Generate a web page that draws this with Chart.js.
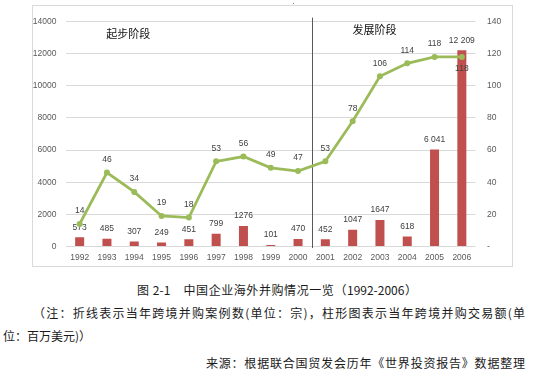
<!DOCTYPE html>
<html><head><meta charset="utf-8">
<script src="https://cdn.jsdelivr.net/npm/chart.js@4.4.1/dist/chart.umd.min.js"></script>
<style>
html,body{margin:0;padding:0;background:#fff;width:553px;height:380px;overflow:hidden;position:relative;font-family:"Noto Sans CJK SC","Noto Sans",sans-serif}
#frame{position:absolute;left:32px;top:5px;width:481px;height:262px;box-sizing:border-box;border:1px solid #d9d9d9;pointer-events:none}
#c{position:absolute;left:32px;top:5px;width:481px;height:262px}
#dot{position:absolute;left:293px;top:3px;width:1px;height:1px;background:#888}
.cap{position:absolute;font-size:12px;line-height:16px;color:#1a1a1a;white-space:nowrap}
.just{text-align:justify;text-align-last:justify;white-space:normal}
</style></head><body>
<canvas id="c" width="481" height="262"></canvas>
<div id="frame"></div>
<div id="dot"></div>
<div class="cap just" style="left:137px;top:282px;width:280px">图 2-1　中国企业海外并购情况一览（1992-2006）</div>
<div class="cap just" style="left:33px;top:305px;width:492px">（注：折线表示当年跨境并购案例数(单位：宗)，柱形图表示当年跨境并购交易额(单</div>
<div class="cap" style="left:3px;top:328px">位：百万美元)）</div>
<div class="cap just" style="left:206px;top:355px;width:319px">来源：根据联合国贸发会历年《世界投资报告》数据整理</div>
<script>
// ---- data ----
const years = ['1992','1993','1994','1995','1996','1997','1998','1999','2000','2001','2002','2003','2004','2005','2006'];
const dealValue = [573, 485, 307, 249, 451, 799, 1276, 101, 470, 452, 1047, 1647, 618, 6041, 12209]; // 百万美元
const dealCount = [14, 46, 34, 19, 18, 53, 56, 49, 47, 53, 78, 106, 114, 118, 118]; // 宗
const leftTicks = {min:0, max:14000, step:2000};
const rightTicks = {min:0, max:140, step:20};
const phaseNames = ['起步阶段', '发展阶段'];

const TICK_FONT = {family:'"Liberation Sans", Arial, sans-serif', size:8.5};
const fmtValue = v => v >= 5000 ? v.toLocaleString('en-US').replace(/,/g, ' ') : String(v);

const labelPlugin = {
  id:'valueLabels',
  afterDatasetDraw(chart, args, opts){
    const ctx = chart.ctx;
    const ds = chart.data.datasets[args.index];
    const meta = args.meta;
    ctx.save();
    ctx.font = '8.5px "Liberation Sans", Arial, sans-serif';
    ctx.fillStyle = '#404040';
    ctx.textAlign = 'center';
    ctx.textBaseline = 'middle';
    meta.data.forEach((el, i) => {
      const v = ds.data[i];
      if (meta.type === 'bar') {
        ctx.fillText(fmtValue(v), el.x, el.y - 10);
      } else {
        const below = (opts.lineBelow || []).includes(i);
        ctx.fillText(String(v), el.x, below ? el.y + 12 : el.y - 13);
      }
    });
    ctx.restore();
  }
};

const phasePlugin = {
  id:'phases',
  beforeDatasetsDraw(chart, args, opts){
    const ctx = chart.ctx;
    const x = chart.scales.x, y = chart.scales.y;
    const area = chart.chartArea;
    const split = (x.getPixelForValue(opts.splitAfter) + x.getPixelForValue(opts.splitAfter + 1)) / 2;
    ctx.save();
    ctx.strokeStyle = '#595959';
    ctx.lineWidth = 1;
    ctx.beginPath();
    ctx.moveTo(Math.round(split) + 0.5, area.top - 4);
    ctx.lineTo(Math.round(split) + 0.5, area.bottom + 1.5);
    ctx.stroke();
    ctx.font = '11px "Noto Sans CJK SC", sans-serif';
    ctx.fillStyle = '#111';
    ctx.textAlign = 'center';
    ctx.textBaseline = 'middle';
    opts.labels.forEach(l => {
      ctx.fillText(l.text, x.getPixelForValue(l.at), y.getPixelForValue(l.y));
    });
    ctx.restore();
  }
};

new Chart(document.getElementById('c'), {
  data: {
    labels: years,
    datasets: [
      {
        type:'line', label:'案例数', data: dealCount, yAxisID:'y1', order:0,
        borderColor:'#9BBB59', backgroundColor:'#9BBB59', borderWidth:2.75,
        pointRadius:3, pointBackgroundColor:'#9BBB59', pointBorderWidth:0, tension:0
      },
      {
        type:'bar', label:'交易额', data: dealValue, yAxisID:'y', order:1,
        backgroundColor:'#C0504D', barPercentage:0.33, categoryPercentage:1
      }
    ]
  },
  options: {
    responsive:false, animation:false, devicePixelRatio:1,
    layout:{padding:{top:16, left:0, right:0, bottom:0}},
    plugins:{
      legend:{display:false}, tooltip:{enabled:false},
      valueLabels:{lineBelow:[14]},
      phases:{
        splitAfter:8,
        labels:[{text:phaseNames[0], at:1.78, y:13250},{text:phaseNames[1], at:10.8, y:13480}]
      }
    },
    scales:{
      x:{
        grid:{display:false, drawTicks:false}, border:{display:false},
        ticks:{font:TICK_FONT, color:'#595959', padding:6, autoSkip:false, maxRotation:0},
        afterFit(s){ s.height = 20.5; }
      },
      y:{
        position:'left', min:leftTicks.min, max:leftTicks.max,
        grid:{color:'#d9d9d9', lineWidth:1, drawTicks:false}, border:{display:false},
        ticks:{stepSize:leftTicks.step, font:TICK_FONT, color:'#595959', padding:9.5,
          callback:v => String(v)},
        afterFit(s){ s.width = 34; }
      },
      y1:{
        position:'right', min:rightTicks.min, max:rightTicks.max,
        grid:{display:false, drawTicks:false}, border:{display:false},
        ticks:{stepSize:rightTicks.step, font:TICK_FONT, color:'#595959', padding:11.5,
          callback:v => v === 0 ? '-' : String(v)},
        afterFit(s){ s.width = 37.5; }
      }
    }
  },
  plugins:[labelPlugin, phasePlugin]
});
</script>
</body></html>
